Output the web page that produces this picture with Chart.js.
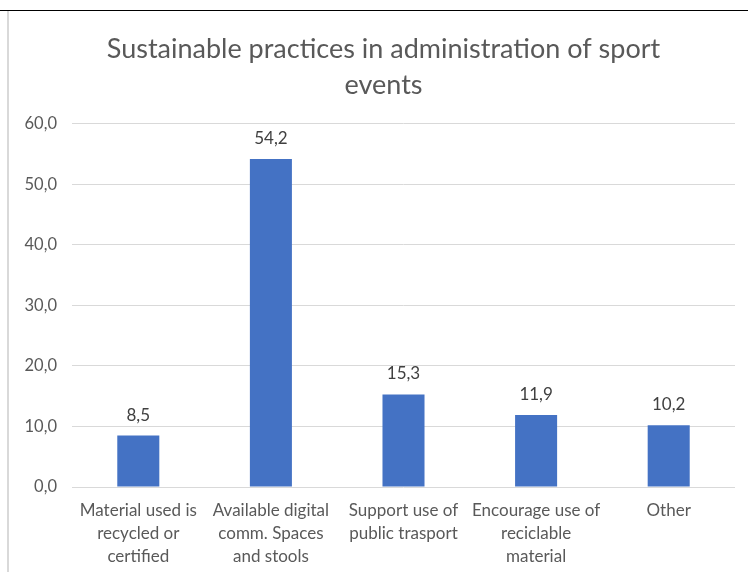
<!DOCTYPE html>
<html>
<head>
<meta charset="utf-8">
<script src="https://cdn.jsdelivr.net/npm/chart.js@4"></script>
<style>
  html, body { margin: 0; padding: 0; background: #fff; }
  body { width: 748px; height: 572px; position: relative; overflow: hidden; }
  #frame {
    position: absolute; left: 0; top: 10px; width: 748px; height: 562px;
    border-top: 1px solid #000;
  }
  #box {
    position: absolute; left: 7px; top: 11px; width: 741px; height: 561px;
    border-left: 2px solid #d9d9d9; box-sizing: border-box;
  }
  #wrap { position: absolute; left: 9px; top: 11px; width: 739px; height: 561px; }
</style>
</head>
<body>
<div id="frame"></div>
<div id="box"></div>
<div id="wrap"><canvas id="myChart"></canvas></div>
<script>
const titleLines = ["Sustainable practices in administration of sport", "events"];
const categories = [
  ["Material used is", "recycled or", "certified"],
  ["Available digital", "comm. Spaces", "and stools"],
  ["Support use of", "public trasport"],
  ["Encourage use of", "reciclable", "material"],
  ["Other"]
];
const values = [8.5, 54.2, 15.3, 11.9, 10.2];
const yTicks = [0, 10, 20, 30, 40, 50, 60];

const fontName = "Lato, 'Open Sans', sans-serif";

function commaFmt(v) {
  return Number(v).toFixed(1).replace('.', ',');
}

// draw the value above each bar
const barLabels = {
  id: 'barLabels',
  afterDatasetsDraw(chart) {
    const ctx = chart.ctx;
    const meta = chart.getDatasetMeta(0);
    ctx.save();
    ctx.font = "17px " + fontName;
    ctx.fillStyle = "#404040";
    ctx.textAlign = "center";
    ctx.textBaseline = "bottom";
    meta.data.forEach((bar, i) => {
      ctx.fillText(commaFmt(values[i]), bar.x, bar.y - 12);
    });
    ctx.restore();
  }
};

// nudge the title so it is centred a bit further right, like the original
const titleShift = {
  id: 'titleShift',
  afterLayout(chart) {
    if (chart.titleBlock) chart.titleBlock.left += 23;
  }
};

new Chart("myChart", {
  type: "bar",
  data: {
    labels: categories,
    datasets: [{
      data: values,
      backgroundColor: "#4472C4",
      borderWidth: 0,
      categoryPercentage: 1,
      barPercentage: 0.317
    }]
  },
  plugins: [barLabels, titleShift],
  options: {
    responsive: true,
    maintainAspectRatio: false,
    animation: false,
    layout: { padding: { left: 0, right: 13, top: 0, bottom: 0 } },
    plugins: {
      legend: { display: false },
      tooltip: { enabled: false },
      title: {
        display: true,
        text: titleLines,
        color: "#595959",
        font: { family: fontName, size: 27, weight: "normal", lineHeight: 1.333 },
        padding: { top: 20, bottom: 21 }
      }
    },
    scales: {
      x: {
        afterFit(scale) { scale.height = 85; },
        grid: { display: false, drawTicks: false },
        border: { display: false },
        ticks: {
          color: "#595959",
          font: { family: fontName, size: 17, lineHeight: 1.353 },
          padding: 12,
          maxRotation: 0,
          autoSkip: false
        }
      },
      y: {
        min: 0,
        max: 60,
        afterFit(scale) { scale.width = 63; },
        afterBuildTicks(scale) { scale.ticks = yTicks.map(v => ({ value: v })); },
        grid: { color: "#d9d9d9", drawTicks: false, lineWidth: 1 },
        border: { display: false },
        ticks: {
          color: "#595959",
          font: { family: fontName, size: 16.5 },
          padding: 15,
          callback: v => commaFmt(v)
        }
      }
    }
  }
});
</script>
</body>
</html>
